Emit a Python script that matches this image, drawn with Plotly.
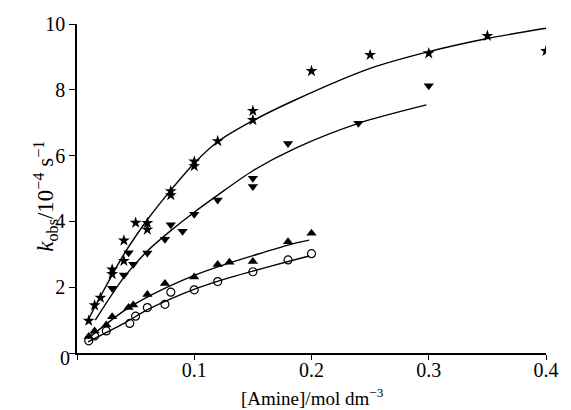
import plotly.graph_objects as go

# ---- data ----
star_x = [0.01, 0.015, 0.02, 0.03, 0.03, 0.04, 0.04, 0.05, 0.06, 0.06, 0.08, 0.08,
          0.10, 0.10, 0.12, 0.15, 0.15, 0.20, 0.25, 0.30, 0.35, 0.40]
star_y = [0.98, 1.45, 1.68, 2.54, 2.40, 3.42, 2.80, 3.96, 3.95, 3.75, 4.92, 4.80,
          5.82, 5.68, 6.44, 7.36, 7.08, 8.57, 9.06, 9.11, 9.64, 9.18]
star_fit_x = [0.0094, 0.02, 0.04, 0.06, 0.08, 0.10, 0.12, 0.15, 0.186, 0.25, 0.30, 0.35, 0.40]
star_fit_y = [1.00, 1.72, 3.00, 4.05, 4.95, 5.77, 6.42, 7.06, 7.69, 8.65, 9.16, 9.56, 9.87]

tdown_x = [0.03, 0.04, 0.044, 0.048, 0.06, 0.075, 0.08, 0.09, 0.10, 0.12,
           0.15, 0.15, 0.18, 0.24, 0.30]
tdown_y = [1.97, 2.37, 3.05, 2.70, 3.04, 3.46, 3.90, 3.70, 4.22, 4.65,
           5.31, 5.06, 6.37, 6.98, 8.12]
tdown_fit_x = [0.0156, 0.04, 0.06, 0.08, 0.10, 0.12, 0.15, 0.186, 0.24, 0.298]
tdown_fit_y = [1.00, 2.30, 3.10, 3.72, 4.28, 4.80, 5.54, 6.22, 6.98, 7.54]

tup_x = [0.01, 0.015, 0.025, 0.03, 0.044, 0.048, 0.06, 0.075, 0.10, 0.12,
         0.13, 0.15, 0.18, 0.20]
tup_y = [0.50, 0.67, 0.85, 1.10, 1.38, 1.46, 1.78, 2.11, 2.31, 2.69,
         2.76, 2.78, 3.38, 3.64]
tup_fit_x = [0.0094, 0.04, 0.061, 0.10, 0.125, 0.15, 0.18, 0.198]
tup_fit_y = [0.44, 1.28, 1.72, 2.36, 2.68, 2.96, 3.28, 3.43]

circ_x = [0.01, 0.015, 0.025, 0.045, 0.05, 0.06, 0.075, 0.08, 0.10, 0.12,
          0.15, 0.18, 0.20]
circ_y = [0.37, 0.52, 0.67, 0.90, 1.12, 1.38, 1.48, 1.85, 1.92, 2.17,
          2.47, 2.83, 3.02]
circ_fit_x = [0.0094, 0.04, 0.061, 0.1025, 0.128, 0.15, 0.18, 0.198]
circ_fit_y = [0.34, 0.90, 1.33, 1.97, 2.27, 2.49, 2.78, 2.95]

x_ticks = [0, 0.1, 0.2, 0.3, 0.4]
x_ticktext = ["", "0.1", "0.2", "0.3", "0.4"]
y_ticks = [0, 2, 4, 6, 8, 10]
y_ticktext = ["", "2", "4", "6", "8", "10"]

FONT = "Liberation Serif"
FS = 20

W, H = 571, 410
ML, MR, MT, MB = 77, 14, 24, 57

fig = go.Figure()

line_style = dict(color="black", width=1.4)
for fx, fy in [(star_fit_x, star_fit_y), (tdown_fit_x, tdown_fit_y),
               (tup_fit_x, tup_fit_y), (circ_fit_x, circ_fit_y)]:
    fig.add_trace(go.Scatter(x=fx, y=fy, mode="lines",
                             line=dict(shape="spline", smoothing=0.8, **line_style),
                             hoverinfo="skip", showlegend=False))

fig.add_trace(go.Scatter(x=star_x, y=star_y, mode="markers",
                         marker=dict(symbol="star", size=9, color="black"), showlegend=False))
fig.add_trace(go.Scatter(x=tdown_x, y=tdown_y, mode="markers",
                         marker=dict(symbol="triangle-down", size=9, color="black"), showlegend=False))
fig.add_trace(go.Scatter(x=tup_x, y=tup_y, mode="markers",
                         marker=dict(symbol="triangle-up", size=9, color="black"), showlegend=False))
fig.add_trace(go.Scatter(x=circ_x, y=circ_y, mode="markers",
                         marker=dict(symbol="circle-open", size=8, color="black", line=dict(width=1.2)),
                         showlegend=False))

pw = W - ML - MR
ph = H - MT - MB
def px_to_paper(wx, wy):
    return (wx - ML) / pw, (H - MB - wy) / ph

a0 = px_to_paper(58, 371)
a1 = px_to_paper(318, 410)
a2 = px_to_paper(26, 196)

fig.update_layout(
    width=W, height=H,
    margin=dict(l=ML, r=MR, t=MT, b=MB),
    plot_bgcolor="white", paper_bgcolor="white",
    font=dict(family=FONT, size=FS, color="black"),
    xaxis=dict(range=[0, 0.4], tickvals=x_ticks, ticktext=x_ticktext,
               showgrid=False, zeroline=False, showline=True, linecolor="black", linewidth=1.5,
               ticks="outside", ticklen=5, tickwidth=1.2, tickcolor="black",
               ticklabelstandoff=-7,
               tickfont=dict(family=FONT, size=FS)),
    yaxis=dict(range=[0, 10], tickvals=y_ticks, ticktext=y_ticktext,
               showgrid=False, zeroline=False, showline=True, linecolor="black", linewidth=1.5,
               ticks="outside", ticklen=6, tickwidth=1.2, tickcolor="black",
               tickfont=dict(family=FONT, size=FS)),
    annotations=[
        dict(text="0", x=a0[0], y=a0[1], xref="paper", yref="paper", showarrow=False,
             font=dict(family=FONT, size=FS)),
        dict(text="[Amine]/mol dm<sup>−3</sup>", x=a1[0], y=a1[1], xref="paper", yref="paper",
             yanchor="bottom", borderpad=0, showarrow=False, font=dict(family=FONT, size=19)),
        dict(text="<i>k</i><sub>obs</sub>/10<sup>−4</sup> s<sup>−1</sup>", x=a2[0], y=a2[1],
             xref="paper", yref="paper", textangle=-90, showarrow=False,
             font=dict(family=FONT, size=23)),
    ],
)

fig.write_html("out.html", config={"displayModeBar": False},
               post_script="document.body.style.margin='0';document.body.style.overflow='hidden';")
